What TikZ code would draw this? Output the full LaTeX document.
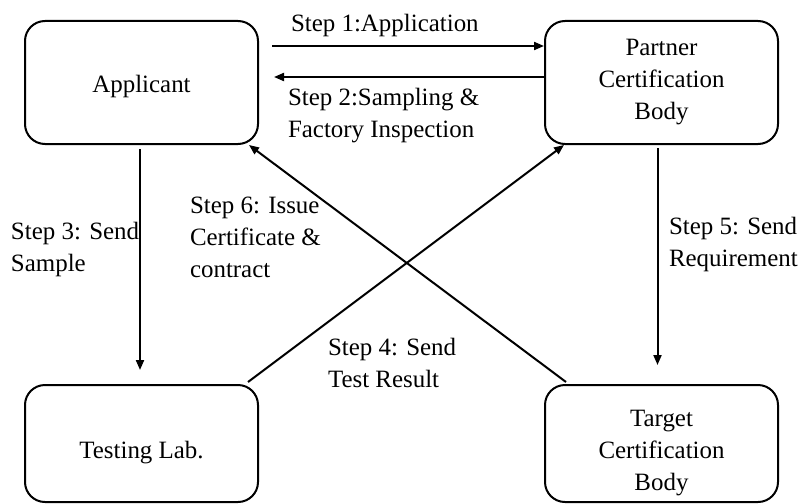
\documentclass[tikz,border=0pt]{standalone}
\usepackage{fontspec}
\setmainfont{Liberation Serif}
\usetikzlibrary{arrows.meta}

\tikzset{every picture/.style={line width=1.5pt}}
\tikzset{
  stepbox/.style={draw, rounded corners=15pt, minimum width=174.75pt, align=center, inner sep=0pt},
  steplabel/.style={anchor=north west, align=left, inner sep=0pt},
  conn/.style={-{Triangle[length=7.5pt,width=6pt]}}
}

\begin{document}
\begin{tikzpicture}[x=0.75pt,y=0.75pt,yscale=-1,xscale=1,font=\fontsize{18.7}{24}\selectfont]
	\path (0,0) rectangle (798,503); %set diagram size 798 x 503

	%Rounded Rect [id:applicant]
	\node[stepbox, minimum height=92.25pt, text height=19pt] (applicant) at (141.5,82.5) {Applicant};
	%Rounded Rect [id:partner]
	\node[stepbox, minimum height=92.25pt] (partner) at (661.5,82.5) {Partner\\Certification\\Body};
	%Rounded Rect [id:lab]
	\node[stepbox, minimum height=87.75pt, text height=26pt] (lab) at (141.5,443.5) {Testing Lab.};
	%Rounded Rect [id:target]
	\node[stepbox, minimum height=87.75pt, text height=74pt] (target) at (661.5,443.5) {Target\\Certification\\Body};

	%Straight Lines [id:step1]
	\draw[conn] ([shift={(13,-36.5)}]applicant.east) -- ([shift={(0,-36.5)}]partner.west);
	%Straight Lines [id:step2]
	\draw[conn] ([shift={(0,-5.5)}]partner.west) -- ([shift={(15,-5.5)}]applicant.east);
	%Straight Lines [id:step3]
	\draw[conn] ([shift={(-1.5,4)}]applicant.south) -- ([shift={(-1.5,-14)}]lab.north);
	%Straight Lines [id:step5]
	\draw[conn] ([shift={(-4,3)}]partner.south) -- ([shift={(-4,-19)}]target.north);
	%Straight Lines [id:step4]
	\draw[conn] ([shift={(-11,-2)}]lab.north east) -- ([shift={(20,0)}]partner.south west);
	%Straight Lines [id:step6]
	\draw[conn] ([shift={(22,-2)}]target.north west) -- ([shift={(-10,0)}]applicant.south east);

	% Text Node
	\node[steplabel] (s1) at (290,13) {Step 1:Application};
	% Text Node
	\node[steplabel] (s2) at (287,87) {Step 2:Sampling \&\\Factory Inspection};
	% Text Node
	\node[steplabel] (s3) at (10,221) {Step 3: Send\\Sample};
	% Text Node
	\node[steplabel] (s6) at (189,196) {Step 6: Issue\\Certificate \&\\contract};
	% Text Node
	\node[steplabel] (s4) at (327,337) {Step 4: Send\\Test Result};
	% Text Node
	\node[steplabel] (s5) at (668,216) {Step 5: Send\\Requirement};

\end{tikzpicture}
\end{document}
